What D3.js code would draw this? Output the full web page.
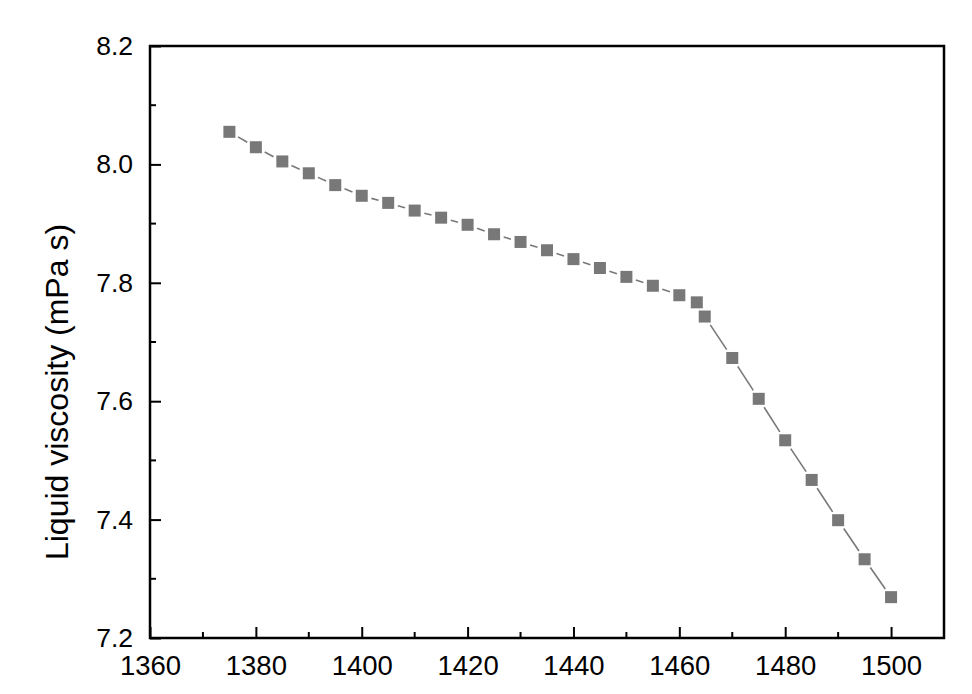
<!DOCTYPE html>
<html>
<head>
<meta charset="utf-8">
<script src="https://cdn.jsdelivr.net/npm/d3@7"></script>
<style>
html,body{margin:0;padding:0;background:#fff;}
svg{display:block;}
</style>
</head>
<body>
<svg id="chart" width="972" height="694"></svg>
<script>
const temperature = [1375,1380,1385,1390,1395,1400,1405,1410,1415,1420,1425,1430,1435,1440,1445,1450,1455,1460,1463.3,1464.8,1470,1475,1480,1485,1490,1495,1500];
const viscosity  = [8.055,8.029,8.005,7.985,7.965,7.947,7.935,7.922,7.910,7.898,7.882,7.869,7.855,7.840,7.825,7.810,7.795,7.779,7.767,7.743,7.673,7.604,7.534,7.467,7.399,7.333,7.269];
const xTicks = [1360,1380,1400,1420,1440,1460,1480,1500];
const xMinor = [1370,1390,1410,1430,1450,1470,1490];
const yTicks = [7.2,7.4,7.6,7.8,8.0,8.2];
const yMinor = [7.3,7.5,7.7,7.9,8.1];
const yTitle = "Liquid viscosity (mPa s)";

const svg = d3.select("#chart");
const L = 150, R = 944, T = 46, B = 638;
const x = d3.scaleLinear().domain([1360,1510]).range([L,R]);
const y = d3.scaleLinear().domain([7.2,8.2]).range([B,T]);
const col = "#787878";

// line segments with gaps near symbols
const pts = temperature.map((t,i)=>[x(t), y(viscosity[i])]);
const gap = 10;
const segs = [];
for (let i=0;i<pts.length-1;i++){
  const [x1,y1]=pts[i],[x2,y2]=pts[i+1];
  const dx=x2-x1, dy=y2-y1, len=Math.hypot(dx,dy);
  if (len>2*gap+1){
    const ux=dx/len, uy=dy/len;
    segs.push([x1+ux*gap,y1+uy*gap,x2-ux*gap,y2-uy*gap]);
  }
}
svg.append("g").selectAll("line").data(segs).join("line")
  .attr("x1",d=>d[0]).attr("y1",d=>d[1]).attr("x2",d=>d[2]).attr("y2",d=>d[3])
  .attr("stroke",col).attr("stroke-width",1.6);

const s = 12;
svg.append("g").selectAll("rect").data(temperature).join("rect")
  .attr("x",(d)=>x(d)-s/2).attr("y",(d,i)=>y(viscosity[i])-s/2)
  .attr("width",s).attr("height",s).attr("fill",col);

// axes (inward ticks)
const font = "'Liberation Sans', Arial, sans-serif";
const xAxis = d3.axisBottom(x).tickValues(xTicks).tickSize(-11).tickPadding(17).tickFormat(d3.format("d"));
const gx = svg.append("g").attr("transform",`translate(0,${B})`).call(xAxis);
gx.selectAll("text").attr("font-family",font).attr("font-size",27.5).attr("fill","#000");
gx.append("g").selectAll("line").data(xMinor).join("line")
  .attr("x1",d=>x(d)).attr("x2",d=>x(d)).attr("y1",0).attr("y2",-6).attr("stroke","#000").attr("stroke-width",2);

const yAxis = d3.axisLeft(y).tickValues(yTicks).tickSize(-11).tickPadding(17).tickFormat(d3.format(".1f"));
const gy = svg.append("g").attr("transform",`translate(${L},0)`).call(yAxis);
gy.selectAll("text").attr("font-family",font).attr("font-size",26.5).attr("fill","#000");
gy.append("g").selectAll("line").data(yMinor).join("line")
  .attr("y1",d=>y(d)).attr("y2",d=>y(d)).attr("x1",0).attr("x2",6).attr("stroke","#000").attr("stroke-width",2);

[gx,gy].forEach(g=>{
  g.selectAll(".tick line").attr("stroke","#000").attr("stroke-width",2);
  g.select(".domain").remove();
});

// frame
svg.append("rect").attr("x",L).attr("y",T).attr("width",R-L).attr("height",B-T)
  .attr("fill","none").attr("stroke","#000").attr("stroke-width",2.5);

svg.append("text").attr("transform",`translate(68,392) rotate(-90)`)
  .attr("text-anchor","middle").attr("font-family",font).attr("font-size",32).attr("fill","#000")
  .text(yTitle);
</script>
</body>
</html>
